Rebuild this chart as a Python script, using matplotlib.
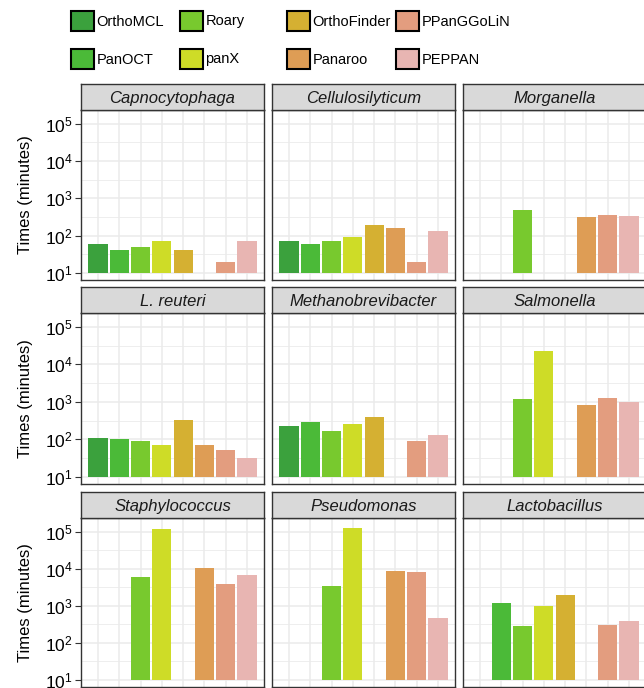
import numpy as np
import matplotlib
matplotlib.use("Agg")
import matplotlib.pyplot as plt
from matplotlib.patches import Rectangle

plt.rcParams["font.family"] = ["Liberation Sans", "DejaVu Sans"]
plt.rcParams["mathtext.fontset"] = "custom"
plt.rcParams["mathtext.rm"] = "Liberation Sans"
plt.rcParams["mathtext.it"] = "Liberation Sans:italic"
plt.rcParams["mathtext.default"] = "regular"

# Tools and their fill colours
methods = ["OrthoMCL", "PanOCT", "Roary", "panX",
           "OrthoFinder", "Panaroo", "PPanGGoLiN", "PEPPAN"]
colors = ["#3BA13D", "#4BBA38", "#78C92E", "#CEDC27",
          "#D5B032", "#DE9D55", "#E39D7F", "#E8B5B2"]

# Running times in minutes (None = no result)
capnocytophaga = [59, 41, 49, 71, 41, None, 19.5, 71]
cellulosilyticum = [71, 59, 71, 94, 193, 163, 19.5, 133]
morganella = [None, None, 480, None, None, 317, 359, 337]
l_reuteri = [109, 103, 91, 72, 332, 72, 52, 32]
methanobrevibacter = [229, 294, 168, 259, 400, None, 91, 132]
salmonella = [None, None, 1216, 22200, None, 840, 1295, 1010]
staphylococcus = [None, None, 6000, 118000, None, 10470, 3800, 6920]
pseudomonas = [None, None, 3430, 125600, None, 8690, 8170, 470]
lactobacillus = [None, 1167, 286, 991, 1958, None, 304, 390]

species = ["Capnocytophaga", "Cellulosilyticum", "Morganella",
           "L. reuteri", "Methanobrevibacter", "Salmonella",
           "Staphylococcus", "Pseudomonas", "Lactobacillus"]
times = [capnocytophaga, cellulosilyticum, morganella,
         l_reuteri, methanobrevibacter, salmonella,
         staphylococcus, pseudomonas, lactobacillus]

W, H = 644, 688
fig = plt.figure(figsize=(W / 100, H / 100), dpi=100)

col_edges = [(81, 264), (272, 455), (463, 646)]
row_edges = [(84, 110, 280), (287, 313, 484), (492, 518, 687)]  # strip top, panel top, panel bottom

def fig_rect(x0, x1, y0, y1):
    return [x0 / W, 1 - y1 / H, (x1 - x0) / W, (y1 - y0) / H]

border = "#333333"
grid_col = "#EBEBEB"
x = np.arange(1, len(methods) + 1)

for i, (name, vals) in enumerate(zip(species, times)):
    r, c = divmod(i, 3)
    x0, x1 = col_edges[c]
    st, pt, pb = row_edges[r]
    ax = fig.add_axes(fig_rect(x0, x1, pt, pb))
    ax.set_yscale("log")
    ax.set_xlim(0.2, 8.8)
    ax.set_ylim(10 ** 0.81, 10 ** 5.37)

    # grid
    for k in range(1, 6):
        ax.axhline(10 ** k, color=grid_col, lw=1.1, zorder=0)
    for k in np.arange(0.5, 6, 1.0):
        ax.axhline(10 ** k, color=grid_col, lw=0.6, zorder=0)
    for xv in x:
        ax.axvline(xv, color=grid_col, lw=1.1, zorder=0)

    for xi, v, col in zip(x, vals, colors):
        if v is None:
            continue
        ax.bar(xi, v - 10, bottom=10, width=0.9, color=col, zorder=2, linewidth=0)

    ax.set_xticks([])
    ax.minorticks_off()
    ax.set_yticks([10 ** k for k in range(1, 6)])
    ax.yaxis.set_tick_params(which="minor", length=0)
    if c == 0:
        ax.set_yticklabels([r"$10^{%d}$" % k for k in range(1, 6)], fontsize=12.5, color="black")
        ax.tick_params(axis="y", length=4, width=0.8, color=border, pad=2)
    else:
        ax.set_yticklabels([])
        ax.tick_params(axis="y", length=0)
    for sp in ax.spines.values():
        sp.set_color(border)
        sp.set_linewidth(1.0)
        sp.set_zorder(5)

    # facet strip
    sax = fig.add_axes(fig_rect(x0, x1, st, pt))
    sax.set_facecolor("#D9D9D9")
    sax.set_xticks([])
    sax.set_yticks([])
    for sp in sax.spines.values():
        sp.set_color(border)
        sp.set_linewidth(1.0)
    sax.text(0.5, 0.45, name, ha="center", va="center", fontsize=12,
             style="italic", color="#1A1A1A", transform=sax.transAxes)

    if c == 0:
        fig.text(25.5 / W, 1 - ((pt + pb) / 2) / H, "Times (minutes)", rotation=90,
                 ha="center", va="center", fontsize=12, color="black")

# legend, two rows filled column by column
key_x = [71, 180, 287, 396]
key_y = [21, 59]
kw, kh = 23, 20
for j, (m, col) in enumerate(zip(methods, colors)):
    cidx, ridx = divmod(j, 2)
    kx = key_x[cidx]
    ky = key_y[ridx]
    fig.patches.append(Rectangle((kx / W, 1 - (ky + kh / 2) / H), kw / W, kh / H,
                                 facecolor=col, edgecolor="black", lw=1.5,
                                 transform=fig.transFigure, figure=fig))
    fig.text((kx + kw + 2.5) / W, 1 - (ky + 0.5) / H, m, ha="left", va="center",
             fontsize=10.5, color="black")

fig.savefig("out.png", dpi=100, facecolor="white")
